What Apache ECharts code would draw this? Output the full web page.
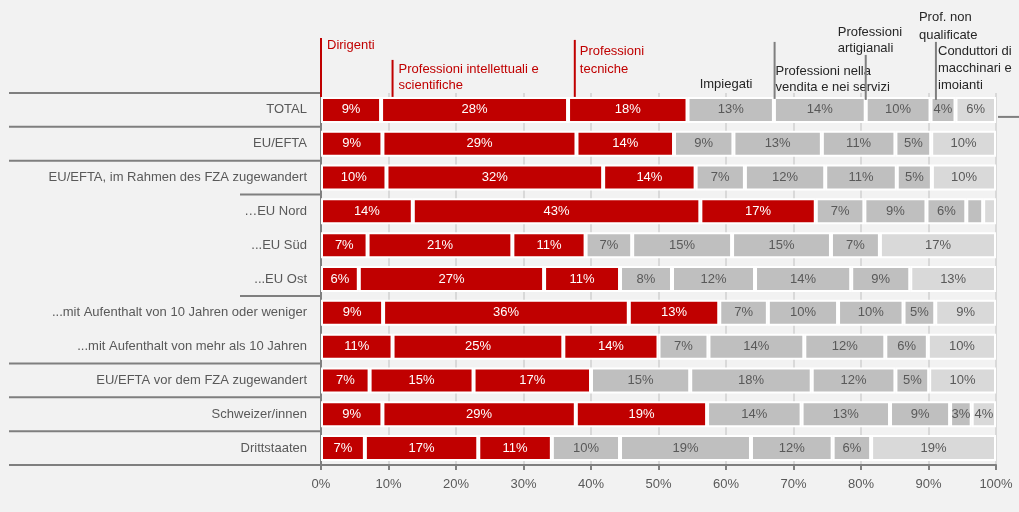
<!DOCTYPE html>
<html>
<head>
<meta charset="utf-8">
<script src="https://cdn.jsdelivr.net/npm/echarts@6/dist/echarts.min.js"></script>
<style>
  html, body { margin: 0; padding: 0; background: #f2f2f2; }
  #chart { width: 1019px; height: 512px; }
</style>
</head>
<body>
<div id="chart"></div>
<script>
// categorie (righe, dall'alto)
const categories = [
  'TOTAL',
  'EU/EFTA',
  'EU/EFTA, im Rahmen des FZA zugewandert',
  '…EU Nord',
  '...EU Süd',
  '...EU Ost',
  '...mit Aufenthalt von 10 Jahren oder weniger',
  '...mit Aufenthalt von mehr als 10 Jahren',
  'EU/EFTA vor dem FZA zugewandert',
  'Schweizer/innen',
  'Drittstaaten'
];

// gruppi professionali (serie impilate)
const seriesNames = [
  'Dirigenti',
  'Professioni intellettuali e scientifiche',
  'Professioni tecniche',
  'Impiegati',
  'Professioni nella vendita e nei servizi',
  'Professioni artigianali',
  'Prof. non qualificate',
  'Conduttori di macchinari e imoianti'
];

// quote in % per riga
const dirigenti     = [8.9, 9.1, 9.7, 13.6, 6.9, 5.6, 9.2, 10.6, 7.2, 9.1, 6.5];
const intellettuali = [27.7, 28.75, 32.1, 42.6, 21.45, 27.45, 36.4, 25.3, 15.4, 28.65, 16.8];
const tecniche      = [17.7, 14.45, 13.7, 17.1, 10.85, 11.25, 13.4, 14.1, 17.4, 19.45, 10.9];
const impiegati     = [12.8, 8.8, 7.3, 7.2, 6.9, 7.7, 7.2, 7.4, 14.7, 14.0, 10.1];
const vendita       = [13.6, 13.1, 11.9, 9.2, 14.8, 12.3, 10.4, 14.2, 18.0, 13.1, 19.4];
const artigianali   = [9.6, 10.9, 10.6, 5.9, 14.65, 14.25, 9.7, 12.0, 12.4, 8.9, 12.1];
const nonQualif     = [3.7, 5.3, 5.2, 2.5, 7.25, 8.75, 4.7, 6.3, 5.0, 3.2, 5.7];
const conduttori    = [6.0, 9.6, 9.5, 1.9, 17.2, 12.7, 9.0, 10.1, 9.9, 3.6, 18.5];

const seriesValues = [dirigenti, intellettuali, tecniche, impiegati, vendita, artigianali, nonQualif, conduttori];

// etichette in testa (sopra la riga TOTAL) e posizione sull'asse x in %
const headerTexts = [
  'Dirigenti',
  'Professioni intellettuali e\nscientifiche',
  'Professioni\ntecniche',
  'Impiegati',
  'Professioni nella\nvendita e nei servizi',
  'Professioni\nartigianali',
  'Prof. non\nqualificate',
  'Conduttori di\nmacchinari e\nimoianti'
];
const headerAnchors = [0, 10.6, 37.6, 56.1, 67.2, 80.7, 91.1, 100];

// limiti dei gruppi sul lato sinistro (bordo prima della riga k)
const groupBounds = [0, 1, 2, 3, 6, 8, 9, 10, 11];
const groupShort  = [false, false, false, true, true, false, false, false, false];

const FONT = '"Liberation Sans", Arial, sans-serif';
const FS = 13;
const RED = '#c00000';
const GREY = '#bfbfbf';
const LIGHT = '#d9d9d9';
const colors = [RED, RED, RED, GREY, GREY, GREY, GREY, LIGHT];

// offset in px rispetto al punto di ancoraggio (centro riga TOTAL)
const headerLayout = [
  { line: [0, -72, 0, -13], dx: 6, dy: -73, lh: 17, color: RED },
  { line: [0, -50, 0, -13], dx: 6, dy: -48, lh: 16, color: RED },
  { line: [0, -70, 0, -13], dx: 5, dy: -67, lh: 18, color: RED },
  { line: null, dx: 0, dy: -34, lh: 17, color: '#262626' },
  { line: [0, -68, 0, -11], dx: 1, dy: -46, lh: 16, color: '#262626' },
  { line: [0, -55, 0, -10], dx: -28, dy: -85, lh: 16, color: '#262626' },
  { line: [0, -68, 0, -10], dx: -17, dy: -101, lh: 18, color: '#262626' },
  { line: [2, 7, 23, 7], dx: -58, dy: -67, lh: 17, color: '#262626' }
];

const chart = echarts.init(document.getElementById('chart'));

const barSeries = seriesNames.map((name, s) => ({
  name: name,
  type: 'bar',
  stack: 'tot',
  barWidth: 26,
  data: seriesValues[s],
  itemStyle: { color: colors[s], borderColor: '#ffffff', borderWidth: 2 },
  label: {
    show: true,
    position: 'inside',
    fontFamily: FONT,
    fontSize: FS,
    color: s < 3 ? '#ffffff' : '#595959',
    formatter: (p) => (p.value >= 2.75 ? Math.round(p.value) + '%' : '')
  },
  emphasis: { disabled: true },
  silent: true
}));

// etichette di intestazione con linee guida
const headerSeries = {
  type: 'custom',
  silent: true,
  clip: false,
  z: 10,
  data: headerAnchors.map((a, i) => [a, 0, i]),
  renderItem: (params, api) => {
    const i = api.value(2);
    const p = api.coord([api.value(0), api.value(1)]);
    const lay = headerLayout[i];
    const children = [];
    if (lay.line) {
      children.push({
        type: 'line',
        shape: { x1: p[0] + lay.line[0], y1: p[1] + lay.line[1], x2: p[0] + lay.line[2], y2: p[1] + lay.line[3] },
        style: { stroke: lay.color === RED ? RED : '#7f7f7f', lineWidth: 2 }
      });
    }
    children.push({
      type: 'text',
      x: p[0] + lay.dx,
      y: p[1] + lay.dy,
      style: {
        text: headerTexts[i],
        fill: lay.color,
        fontFamily: FONT,
        fontSize: FS,
        lineHeight: lay.lh,
        align: 'left',
        verticalAlign: 'top'
      }
    });
    return { type: 'group', children: children };
  }
};

// linee di separazione dei gruppi nell'area delle etichette
const groupSeries = {
  type: 'custom',
  silent: true,
  clip: false,
  z: 1,
  data: groupBounds.map((k, i) => [0, Math.min(k, categories.length - 1), k, groupShort[i] ? 1 : 0]),
  renderItem: (params, api) => {
    const k = api.value(2);
    const p = api.coord([0, api.value(1)]);
    const h = api.size([0, 1])[1];
    const y = k >= categories.length ? p[1] + h / 2 : p[1] - h / 2;
    const x1 = api.value(3) ? 240 : 9;
    return {
      type: 'line',
      shape: { x1: x1, y1: y, x2: p[0], y2: y },
      style: { stroke: '#7f7f7f', lineWidth: 2 }
    };
  }
};

const option = {
  backgroundColor: '#f2f2f2',
  animation: false,
  grid: { left: 321, right: 23, top: 93, bottom: 47 },
  xAxis: {
    type: 'value',
    min: 0,
    max: 100,
    interval: 10,
    axisLine: { show: true, lineStyle: { color: '#7f7f7f', width: 2 } },
    axisTick: { show: true, length: 5, lineStyle: { color: '#7f7f7f', width: 2 } },
    splitLine: { show: true, lineStyle: { color: '#d9d9d9', width: 2 } },
    axisLabel: {
      formatter: '{value}%',
      color: '#595959',
      fontFamily: FONT,
      fontSize: FS,
      margin: 13
    }
  },
  yAxis: {
    type: 'category',
    inverse: true,
    data: categories,
    axisLine: { show: true, lineStyle: { color: '#7f7f7f', width: 2 } },
    axisTick: { show: false },
    axisLabel: {
      color: '#595959',
      fontFamily: FONT,
      fontSize: FS,
      margin: 14
    }
  },
  series: [...barSeries, headerSeries, groupSeries]
};

chart.setOption(option);
</script>
</body>
</html>
